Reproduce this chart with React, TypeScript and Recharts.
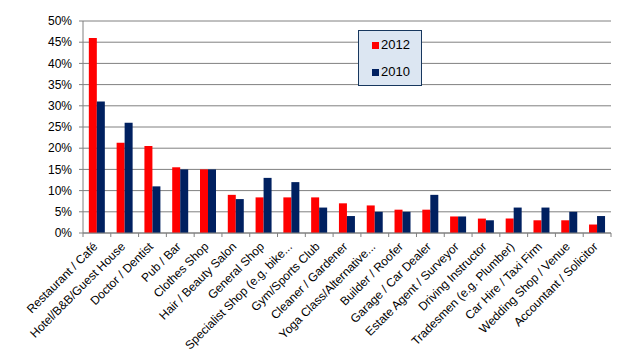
import React from "react";
import { BarChart, Bar, XAxis, YAxis, CartesianGrid } from "recharts";

const categories = [
  "Restaurant / Café",
  "Hotel/B&B/Guest House",
  "Doctor / Dentist",
  "Pub / Bar",
  "Clothes Shop",
  "Hair / Beauty Salon",
  "General Shop",
  "Specialist Shop (e.g. bike...",
  "Gym/Sports Club",
  "Cleaner / Gardener",
  "Yoga Class/Alternative...",
  "Builder / Roofer",
  "Garage / Car Dealer",
  "Estate Agent / Surveyor",
  "Driving Instructor",
  "Tradesmen (e.g. Plumber)",
  "Car Hire / Taxi Firm",
  "Wedding Shop / Venue",
  "Accountant / Solicitor",
];

const values2012 = [46, 21.3, 20.5, 15.5, 15, 9, 8.4, 8.4, 8.4, 7, 6.5, 5.5, 5.5, 3.9, 3.4, 3.4, 3, 3, 2];
const values2010 = [31, 26, 11, 15, 15, 8, 13, 12, 6, 4, 5, 5, 9, 3.9, 3, 6, 6, 5, 4];

const yTicks = [0, 5, 10, 15, 20, 25, 30, 35, 40, 45, 50];

const series = [
  { key: "y2012", label: "2012", color: "#ff0000" },
  { key: "y2010", label: "2010", color: "#002060" },
];

const data = categories.map((name, i) => ({
  name,
  y2012: values2012[i],
  y2010: values2010[i],
}));

const FONT = "Liberation Sans, Arial, sans-serif";
const W = 627;
const H = 354;
const M = { top: 21, right: 16, left: 0, bottom: 0 };
const Y_W = 83;
const X_H = 121;
const band = (W - M.left - M.right - Y_W) / categories.length;

const CategoryTick = (props: any) => {
  const { x, y, payload, index } = props;
  return (
    <g>
      <line x1={x - band / 2} y1={y - 8} x2={x - band / 2} y2={y - 4} stroke="#808080" />
      {index === categories.length - 1 && (
        <line x1={x + band / 2} y1={y - 8} x2={x + band / 2} y2={y - 4} stroke="#808080" />
      )}
      <text
        x={0}
        y={0}
        dy={9}
        textAnchor="end"
        fontSize={12}
        fill="#000"
        fontFamily={FONT}
        transform={`translate(${x - 5},${y}) rotate(-45)`}
      >
        {payload.value}
      </text>
    </g>
  );
};

// legend box sits over the plot, like the original
const LegendBox = () => (
  <div
    style={{
      position: "absolute",
      left: 358,
      top: 30,
      width: 62,
      height: 54,
      background: "#dce6f2",
      border: "1px solid #17375e",
      fontFamily: FONT,
      fontSize: 13,
      color: "#000",
    }}
  >
    {series.map((s, i) => (
      <div
        key={s.key}
        style={{ position: "absolute", left: 13, top: i === 0 ? 7 : 34, display: "flex", alignItems: "center", lineHeight: "14px" }}
      >
        <span style={{ width: 7, height: 7, background: s.color, display: "inline-block", marginRight: 2 }} />
        <span>{s.label}</span>
      </div>
    ))}
  </div>
);

export default function App() {
  return (
    <div style={{ position: "absolute", left: 0, top: 0, width: W, height: H, background: "#fff" }}>
      <BarChart width={W} height={H} data={data} margin={M} barCategoryGap="21%" barGap={0}>
        <CartesianGrid vertical={false} stroke="#808080" />
        <XAxis
          dataKey="name"
          interval={0}
          height={X_H}
          tick={<CategoryTick />}
          tickLine={false}
          axisLine={{ stroke: "#808080" }}
        />
        <YAxis
          width={Y_W}
          domain={[0, 50]}
          ticks={yTicks}
          tickFormatter={(v) => `${v}%`}
          tickSize={4}
          tickMargin={7}
          tickLine={{ stroke: "#808080" }}
          axisLine={{ stroke: "#808080" }}
          tick={{ fontSize: 12, fill: "#000", fontFamily: FONT }}
          interval={0}
        />
        {series.map((s) => (
          <Bar key={s.key} dataKey={s.key} name={s.label} fill={s.color} isAnimationActive={false} />
        ))}
      </BarChart>
      <LegendBox />
    </div>
  );
}
